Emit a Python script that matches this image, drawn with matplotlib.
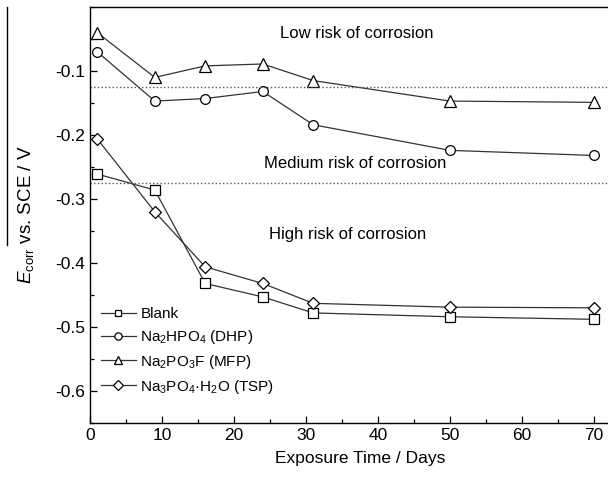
import matplotlib
matplotlib.use('Agg')
import matplotlib.pyplot as plt
from matplotlib.ticker import MultipleLocator
from matplotlib.lines import Line2D

plt.rcParams['font.family'] = ['Liberation Sans', 'DejaVu Sans']
plt.rcParams['mathtext.fontset'] = 'custom'
plt.rcParams['mathtext.rm'] = 'Liberation Sans'
plt.rcParams['mathtext.it'] = 'Liberation Sans:italic'

# exposure time (days)
days = [1, 9, 16, 24, 31, 50, 70]

# corrosion potential (V vs SCE)
blank = [-0.261, -0.286, -0.432, -0.453, -0.478, -0.484, -0.488]
dhp = [-0.070, -0.147, -0.143, -0.132, -0.184, -0.224, -0.232]
mfp = [-0.040, -0.110, -0.092, -0.089, -0.115, -0.147, -0.149]
tsp = [-0.206, -0.320, -0.406, -0.432, -0.463, -0.469, -0.470]

labels = ['Blank',
          'Na$_2$HPO$_4$ (DHP)',
          'Na$_2$PO$_3$F (MFP)',
          'Na$_3$PO$_4$·H$_2$O (TSP)']

# risk thresholds
low_limit = -0.125
high_limit = -0.275

fig = plt.figure(figsize=(6.08, 4.83), dpi=100)
ax = fig.add_axes([90 / 608, 60 / 483, 540 / 608, 416 / 483])

series = [blank, dhp, mfp, tsp]
markers = ['s', 'o', '^', 'D']
msizes = [6.5, 7, 8, 6.5]
for ys, m, ms, lab in zip(series, markers, msizes, labels):
    ax.plot(days, ys, color='#333333', lw=0.9, marker=m, markersize=ms,
            markerfacecolor='white', markeredgecolor='black', markeredgewidth=0.9,
            label=lab)

ax.axhline(low_limit, color='#555555', ls=':', lw=1.0)
ax.axhline(high_limit, color='#555555', ls=':', lw=1.0)

ax.text(37, -0.042, 'Low risk of corrosion', ha='center', va='center', fontsize=12)
ax.text(36.8, -0.245, 'Medium risk of corrosion', ha='center', va='center', fontsize=12)
ax.text(35.8, -0.355, 'High risk of corrosion', ha='center', va='center', fontsize=12)

ax.set_xlim(0, 75)
ax.set_ylim(-0.65, 0)
ax.xaxis.set_major_locator(MultipleLocator(10))
ax.xaxis.set_minor_locator(MultipleLocator(5))
ax.yaxis.set_minor_locator(MultipleLocator(0.05))
ax.set_yticks([-0.1, -0.2, -0.3, -0.4, -0.5, -0.6])
ax.set_yticklabels(['-0.1', '-0.2', '-0.3', '-0.4', '-0.5', '-0.6'])
ax.tick_params(which='major', direction='in', length=5, width=0.9, labelsize=12.5)
ax.tick_params(which='minor', direction='in', length=3, width=0.9)
for s in ax.spines.values():
    s.set_linewidth(1.0)

ax.set_xlabel('Exposure Time / Days', fontsize=12.5, labelpad=6)
ax.set_ylabel('$\\mathit{E}_{\\mathrm{corr}}$ vs. SCE / V', fontsize=13.5, labelpad=14)

ax.legend(loc='lower left', bbox_to_anchor=(0.0, 0.04), frameon=False, fontsize=11,
          handlelength=2.3, handletextpad=0.3, labelspacing=0.45, borderaxespad=0.3,
          markerscale=0.75)

# stray rule left of the y label, as in the source image
fig.add_artist(Line2D([7 / 608, 7 / 608], [1 - 7 / 483, 1 - 245 / 483],
                      transform=fig.transFigure, color='black', lw=1.0))

fig.savefig('out.png', dpi=100)
